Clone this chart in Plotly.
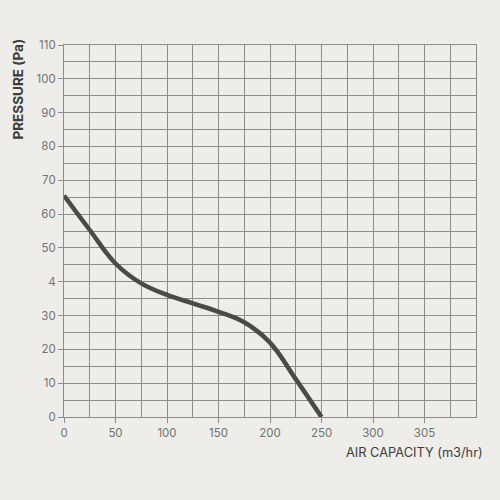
import plotly.graph_objects as go

# fan curve
air_capacity = [0, 25, 50, 75, 100, 125, 150, 175, 200, 225, 250]
pressure = [65.5, 55.3, 45.4, 39.5, 36.1, 33.6, 31.1, 28.0, 22.0, 11.2, 0]

x_ticks = [0, 50, 100, 150, 200, 250, 300, 350]
x_labels = ["0", "50", "100", "150", "200", "250", "300", "305"]
y_ticks = [0, 10, 20, 30, 40, 50, 60, 70, 80, 90, 100, 110]
y_labels = ["0", "10", "20", "30", "4", "50", "60", "70", "80", "90", "100", "110"]

bg = "#eeedea"
grid = "#8c8c8a"

fig = go.Figure()
fig.add_trace(go.Scatter(
    x=air_capacity, y=pressure, mode="lines",
    line=dict(color="#4a4a47", width=4.5, shape="spline", smoothing=1.1),
    hoverinfo="skip",
))

# page body has an 8px margin, so margins are shifted to compensate
fig.update_layout(
    width=500, height=500,
    paper_bgcolor=bg, plot_bgcolor=bg,
    margin=dict(l=56, r=32, t=37, b=91),
    showlegend=False,
    font=dict(family="Inter", size=11.5, color="#727270"),
    annotations=[
        dict(text="<b>PRESSURE (Pa)</b>", textangle=-90, xref="paper", yref="paper",
             x=-0.112, y=0.88, xanchor="center", yanchor="middle", showarrow=False,
             font=dict(size=13.5, color="#3c3c3a")),
        dict(text="AIR CAPACITY (m3/hr)", xref="paper", yref="paper",
             x=1.022, y=-0.095, xanchor="right", yanchor="middle", showarrow=False,
             font=dict(size=12.8, color="#3c3c3a")),
    ],
)

fig.update_xaxes(
    range=[0, 400], tickvals=x_ticks, ticktext=x_labels,
    showgrid=True, gridcolor=grid, gridwidth=1,
    minor=dict(dtick=25, showgrid=True, gridcolor=grid, gridwidth=1),
    showline=True, linecolor=grid, linewidth=1, mirror=True,
    ticks="outside", ticklen=5, tickcolor=grid, zeroline=False,
)
fig.update_yaxes(
    range=[0, 110], tickvals=y_ticks, ticktext=y_labels,
    showgrid=True, gridcolor=grid, gridwidth=1,
    minor=dict(dtick=5, showgrid=True, gridcolor=grid, gridwidth=1),
    showline=True, linecolor=grid, linewidth=1, mirror=True,
    ticks="outside", ticklen=5, tickcolor=grid, zeroline=False,
)

fig.write_html("out.html", post_script="document.body.style.background='%s';" % bg)
